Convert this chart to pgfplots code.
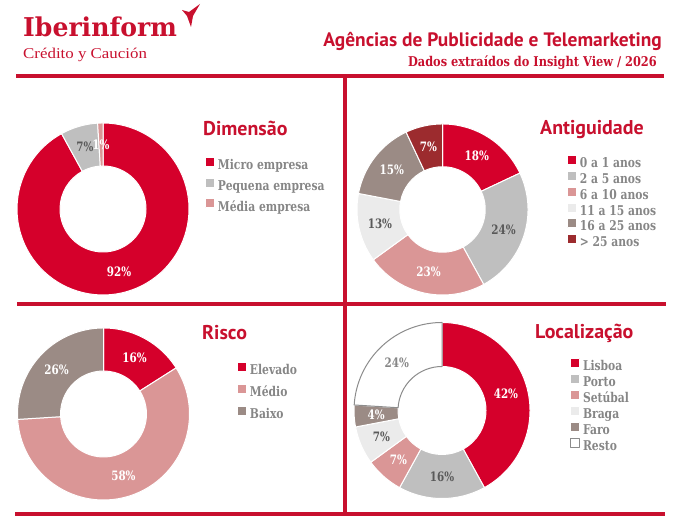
\documentclass[border=0pt]{standalone}
\usepackage{pgfplots}
\pgfplotsset{compat=1.18}
\usepackage{fontspec}
\setmainfont{Liberation Serif}
\setsansfont{PT Sans}
\newfontfamily\slabfam{DejaVu Serif}[FakeStretch=0.8]
\newfontfamily\subfam{DejaVu Serif}[FakeStretch=0.845]
\newfontfamily\logofam{DejaVu Serif}[FakeStretch=0.97]
\newfontfamily\credfam{Liberation Serif}[FakeStretch=1.13]

\definecolor{ibRed}{HTML}{D5002B}
\definecolor{lineRed}{HTML}{C8102E}
\definecolor{cGray}{HTML}{BFBFBF}
\definecolor{cPink}{HTML}{DA9696}
\definecolor{cLight}{HTML}{EBEBEB}
\definecolor{cBrown}{HTML}{9B8B85}
\definecolor{cDark}{HTML}{9C2B2E}
\definecolor{txtDark}{HTML}{595959}
\definecolor{txtLeg}{HTML}{868686}
\definecolor{restoLine}{HTML}{8C8C8C}

\newcommand\legfont{\slabfam\bfseries\fontsize{13.5}{14}\selectfont}
\newcommand\pctfont{\slabfam\bfseries\fontsize{13}{13}\selectfont}
\newcommand\ttlfont{\sffamily\bfseries\fontsize{20}{20}\selectfont}

% one ring segment: start (%), value (%), fill, stroke, legend text
\newcommand\seg[5]{%
  \pgfmathsetmacro\angA{90-3.6*(#1)}%
  \pgfmathsetmacro\angB{90-3.6*(#1+#2)}%
  \pgfmathsetmacro\xa{0.5*cos(\angA)}%
  \pgfmathsetmacro\ya{0.5*sin(\angA)}%
  \edef\doseg{\noexpand\addplot[fill=#3, draw=#4, line width=1pt, line join=round,
    domain=\angB:\angA, samples=90, variable=\noexpand\t]
    ({cos(\noexpand\t)}, {sin(\noexpand\t)}) -- (axis cs:\xa,\ya)
    arc[start angle=\angA, end angle=\angB, radius=\rin] -- cycle;}%
  \doseg
  \addlegendentry{#5}}

% percentage label in the middle of a segment: start, value, colour
\newcommand\lab[3]{%
  \pgfmathsetmacro\angM{90-3.6*(#1+0.5*#2)}%
  \pgfmathsetmacro\lx{0.75*cos(\angM)}%
  \pgfmathsetmacro\ly{0.75*sin(\angM)}%
  \edef\dolab{\noexpand\node[text=#3, font=\noexpand\pctfont, inner sep=0pt]
    at (axis cs:\lx,\ly) {#2\noexpand\%};}%
  \dolab}

\pgfplotsset{
  donut/.style={anchor=origin, hide axis, clip=false,
    xmin=-1, xmax=1, ymin=-1, ymax=1,
    legend cell align=left,
    legend image code/.code={\draw[##1, line width=0.5pt] (0bp,-1bp) rectangle (9bp,8bp);
      \path (12bp,0bp);},
    legend style={anchor=north west, draw=none, fill=none, inner sep=0pt,
      font=\legfont, text=txtLeg,
      nodes={inner sep=0pt}}},
}

\begin{document}
\begin{tikzpicture}[x=1bp,y=1bp]
\path[use as bounding box] (0,0) rectangle (684,531);

% header
\node[anchor=base west, inner sep=0pt, text=lineRed, font=\logofam\bfseries\fontsize{26}{26}\selectfont] at (23,494) {Iberinform};
\fill[lineRed] (182,521) -- (189,519) -- (200,527) -- (193,515) -- (191,504) -- (187,515) -- cycle;
\node[anchor=base west, inner sep=0pt, text=lineRed, font=\credfam\fontsize{15}{15}\selectfont] at (23,472) {Crédito y Caución};
\node[anchor=base east, inner sep=0pt, text=lineRed, font=\sffamily\bfseries\fontsize{19.5}{19.5}\selectfont] at (662,484) {Agências de Publicidade e Telemarketing};
\node[anchor=base east, inner sep=0pt, text=lineRed, font=\subfam\bfseries\fontsize{13.5}{13.5}\selectfont] at (657,464) {Dados extraídos do Insight View / 2026};

% frame lines
\draw[lineRed, line width=3.5bp] (16,455) -- (664,455);
\draw[lineRed, line width=3.5bp] (17,227) -- (666,227);
\draw[lineRed, line width=3.5bp] (15,17) -- (665,17);
\draw[lineRed, line width=3.5bp] (345,455) -- (345,17);

% panel titles
\node[anchor=base west, inner sep=0pt, text=lineRed, font=\ttlfont] at (203,395) {Dimensão};
\node[anchor=base west, inner sep=0pt, text=lineRed, font=\ttlfont] at (540,396) {Antiguidade};
\node[anchor=base west, inner sep=0pt, text=lineRed, font=\ttlfont] at (202,191) {Risco};
\node[anchor=base west, inner sep=0pt, text=lineRed, font=\ttlfont] at (535,192) {Localização};

% Dimensão
\def\rin{43bp}
\begin{axis}[donut, at={(103bp,322bp)}, x=86bp, y=86bp,
  legend style={at={(axis cs:1.186,0.61)}, row sep=6.8bp}]
  \seg{0}{92}{ibRed}{white}{Micro empresa}
  \seg{92}{7}{cGray}{white}{Pequena empresa}
  \seg{99}{1}{cPink}{white}{Média empresa}
  \lab{0}{92}{white}
  \lab{92}{7}{txtDark}
  \lab{99}{1}{white}
\end{axis}

% Antiguidade
\def\rin{42.75bp}
\begin{axis}[donut, at={(442.5bp,321.5bp)}, x=85.5bp, y=85.5bp,
  legend style={at={(axis cs:1.456,0.637)}, row sep=1.8bp}]
  \seg{0}{18}{ibRed}{white}{0 a 1 anos}
  \seg{18}{24}{cGray}{white}{2 a 5 anos}
  \seg{42}{23}{cPink}{white}{6 a 10 anos}
  \seg{65}{13}{cLight}{white}{11 a 15 anos}
  \seg{78}{15}{cBrown}{white}{16 a 25 anos}
  \seg{93}{7}{cDark}{white}{> 25 anos}
  \lab{0}{18}{white}
  \lab{18}{24}{txtDark}
  \lab{42}{23}{white}
  \lab{65}{13}{txtDark}
  \lab{78}{15}{white}
  \lab{93}{7}{white}
\end{axis}

% Risco
\def\rin{43bp}
\begin{axis}[donut, at={(103.5bp,117bp)}, x=86bp, y=86bp,
  legend style={at={(axis cs:1.552,0.61)}, row sep=8bp}]
  \seg{0}{16}{ibRed}{white}{Elevado}
  \seg{16}{58}{cPink}{white}{Médio}
  \seg{74}{26}{cBrown}{white}{Baixo}
  \lab{0}{16}{white}
  \lab{16}{58}{white}
  \lab{74}{26}{white}
\end{axis}

% Localização
\def\rin{44bp}
\begin{axis}[donut, at={(442bp,120.5bp)}, x=88bp, y=88bp,
  legend style={at={(axis cs:1.455,0.597)}, row sep=1.9bp}]
  \seg{0}{42}{ibRed}{white}{Lisboa}
  \seg{42}{16}{cGray}{white}{Porto}
  \seg{58}{7}{cPink}{white}{Setúbal}
  \seg{65}{7}{cLight}{white}{Braga}
  \seg{72}{4}{cBrown}{white}{Faro}
  \seg{76}{24}{white}{restoLine}{Resto}
  \lab{0}{42}{white}
  \lab{42}{16}{txtDark}
  \lab{58}{7}{white}
  \lab{65}{7}{txtDark}
  \lab{72}{4}{white}
  \lab{76}{24}{txtLeg}
\end{axis}
\end{tikzpicture}
\end{document}
